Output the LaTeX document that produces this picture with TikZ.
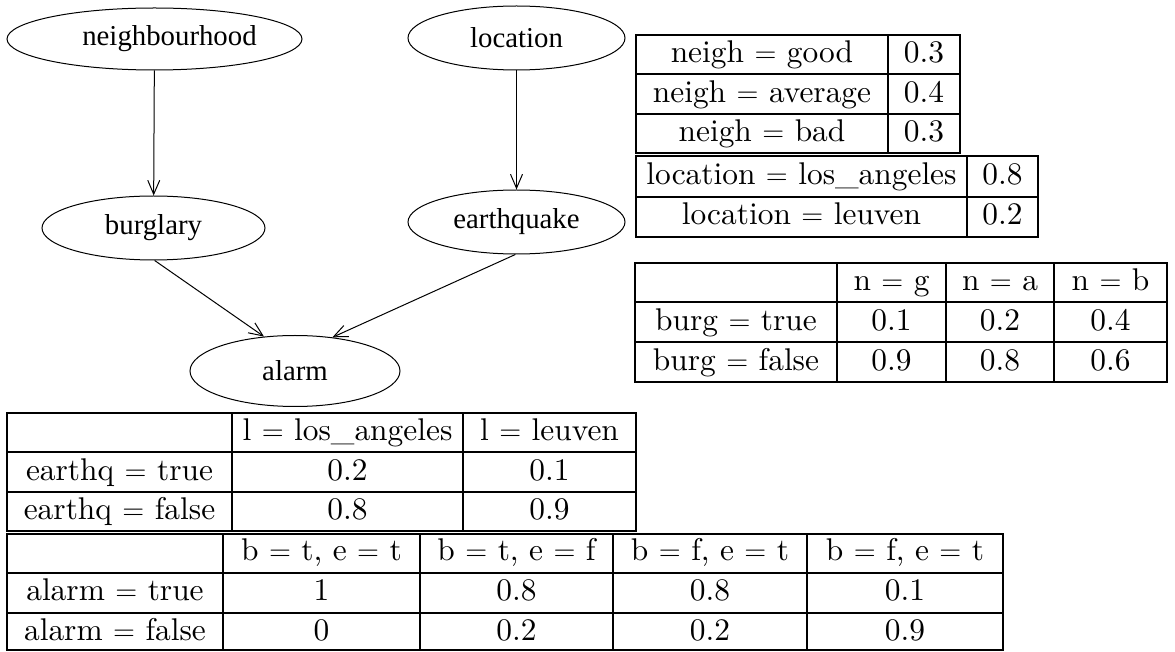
\documentclass[tikz,border=0pt]{standalone}
\usepackage{fontspec}
\setmainfont{lmroman10-regular}[Extension=.otf]
\newfontfamily\varfont{Liberation Serif}
\usetikzlibrary{shapes.geometric,arrows.meta}

\tikzset{
  var/.style={draw, ellipse, line width=0.5pt, inner sep=0pt,
    font=\varfont\fontsize{14.4}{16}\selectfont},
  link/.style={line width=0.5pt, -{Straight Barb[length=7pt,width=6pt]}},
  frame/.style={line width=1.1pt},
  rule/.style={line width=0.7pt},
  cell/.style={anchor=base, inner sep=0pt, font=\fontsize{15.7}{18}\selectfont},
}

\begin{document}
\begin{tikzpicture}[x=0.5pt,y=-0.5pt]
\useasboundingbox (0,0) rectangle (1175,652);

% Bayesian network
\node[var, minimum width=147.5pt, minimum height=31pt] (nb) at (154.5,39) {\hspace*{15pt}\raisebox{-2.5pt}{neighbourhood}};
\node[var, minimum width=108.5pt, minimum height=32pt] (lo) at (516.5,38) {location};
\node[var, minimum width=111.5pt, minimum height=32pt] (bu) at (153.5,228) {\raisebox{-1.5pt}{burglary}};
\node[var, minimum width=108.5pt, minimum height=32pt] (eq) at (516.5,222) {earthquake};
\node[var, minimum width=105pt, minimum height=35.5pt] (al) at (295,371) {\raisebox{0.5pt}{alarm}};

\draw[link] (nb) -- (bu);
\draw[link] (lo) -- (eq);
\draw[link] (bu.-88) -- (al.132);
\draw[link] (eq.-92) -- (al.42);

% P(neighbourhood)
\draw[frame] (636,35) rectangle (960,153);
\draw[rule] (888,35) -- (888,153) (636,74) -- (960,74) (636,114) -- (960,114);
\node[cell] (a11) at (762,63) {neigh $=$ good};
\node[cell] (a12) at (924,63) {0.3};
\node[cell] (a21) at (762,103) {neigh $=$ average};
\node[cell] (a22) at (924,103) {0.4};
\node[cell] (a31) at (762,142) {neigh $=$ bad};
\node[cell] (a32) at (924,142) {0.3};

% P(location)
\draw[frame] (636,156) rectangle (1038,237);
\draw[rule] (967,156) -- (967,237) (636,197) -- (1038,197);
\node[cell] (b11) at (801.5,185) {location $=$ los\_angeles};
\node[cell] (b12) at (1002.5,185) {0.8};
\node[cell] (b21) at (801.5,225) {location $=$ leuven};
\node[cell] (b22) at (1002.5,225) {0.2};

% P(burglary | neighbourhood)
\draw[frame] (635,263) rectangle (1167,382);
\draw[rule] (837,263) -- (837,382) (946,263) -- (946,382) (1054,263) -- (1054,382)
  (635,302) -- (1167,302) (635,342) -- (1167,342);
\node[cell] (c02) at (891.5,291) {n $=$ g};
\node[cell] (c03) at (1000,291) {n $=$ a};
\node[cell] (c04) at (1110.5,291) {n $=$ b};
\node[cell] (c11) at (736,331) {burg $=$ true};
\node[cell] (c12) at (891.5,331) {0.1};
\node[cell] (c13) at (1000,331) {0.2};
\node[cell] (c14) at (1110.5,331) {0.4};
\node[cell] (c21) at (736,371) {burg $=$ false};
\node[cell] (c22) at (891.5,371) {0.9};
\node[cell] (c23) at (1000,371) {0.8};
\node[cell] (c24) at (1110.5,371) {0.6};

% P(earthquake | location)
\draw[frame] (7,413) rectangle (636,531);
\draw[rule] (232,413) -- (232,531) (463,413) -- (463,531)
  (7,452) -- (636,452) (7,492) -- (636,492);
\node[cell] (d02) at (347.5,441) {l $=$ los\_angeles};
\node[cell] (d03) at (549.5,441) {l $=$ leuven};
\node[cell] (d11) at (119.5,481) {earthq $=$ true};
\node[cell] (d12) at (347.5,481) {0.2};
\node[cell] (d13) at (549.5,481) {0.1};
\node[cell] (d21) at (119.5,520) {earthq $=$ false};
\node[cell] (d22) at (347.5,520) {0.8};
\node[cell] (d23) at (549.5,520) {0.9};

% P(alarm | burglary, earthquake)
\draw[frame] (7,534) rectangle (1003,650);
\draw[rule] (223,534) -- (223,650) (420,534) -- (420,650) (613,534) -- (613,650)
  (807,534) -- (807,650) (7,573) -- (1003,573) (7,613) -- (1003,613);
\node[cell] (e02) at (321.5,561) {b $=$ t, e $=$ t};
\node[cell] (e03) at (516.5,561) {b $=$ t, e $=$ f};
\node[cell] (e04) at (710,561) {b $=$ f, e $=$ t};
\node[cell] (e05) at (905,561) {b $=$ f, e $=$ t};
\node[cell] (e11) at (115,601) {alarm $=$ true};
\node[cell] (e12) at (321.5,601) {1};
\node[cell] (e13) at (516.5,601) {0.8};
\node[cell] (e14) at (710,601) {0.8};
\node[cell] (e15) at (905,601) {0.1};
\node[cell] (e21) at (115,641) {alarm $=$ false};
\node[cell] (e22) at (321.5,641) {0};
\node[cell] (e23) at (516.5,641) {0.2};
\node[cell] (e24) at (710,641) {0.2};
\node[cell] (e25) at (905,641) {0.9};
\end{tikzpicture}
\end{document}
